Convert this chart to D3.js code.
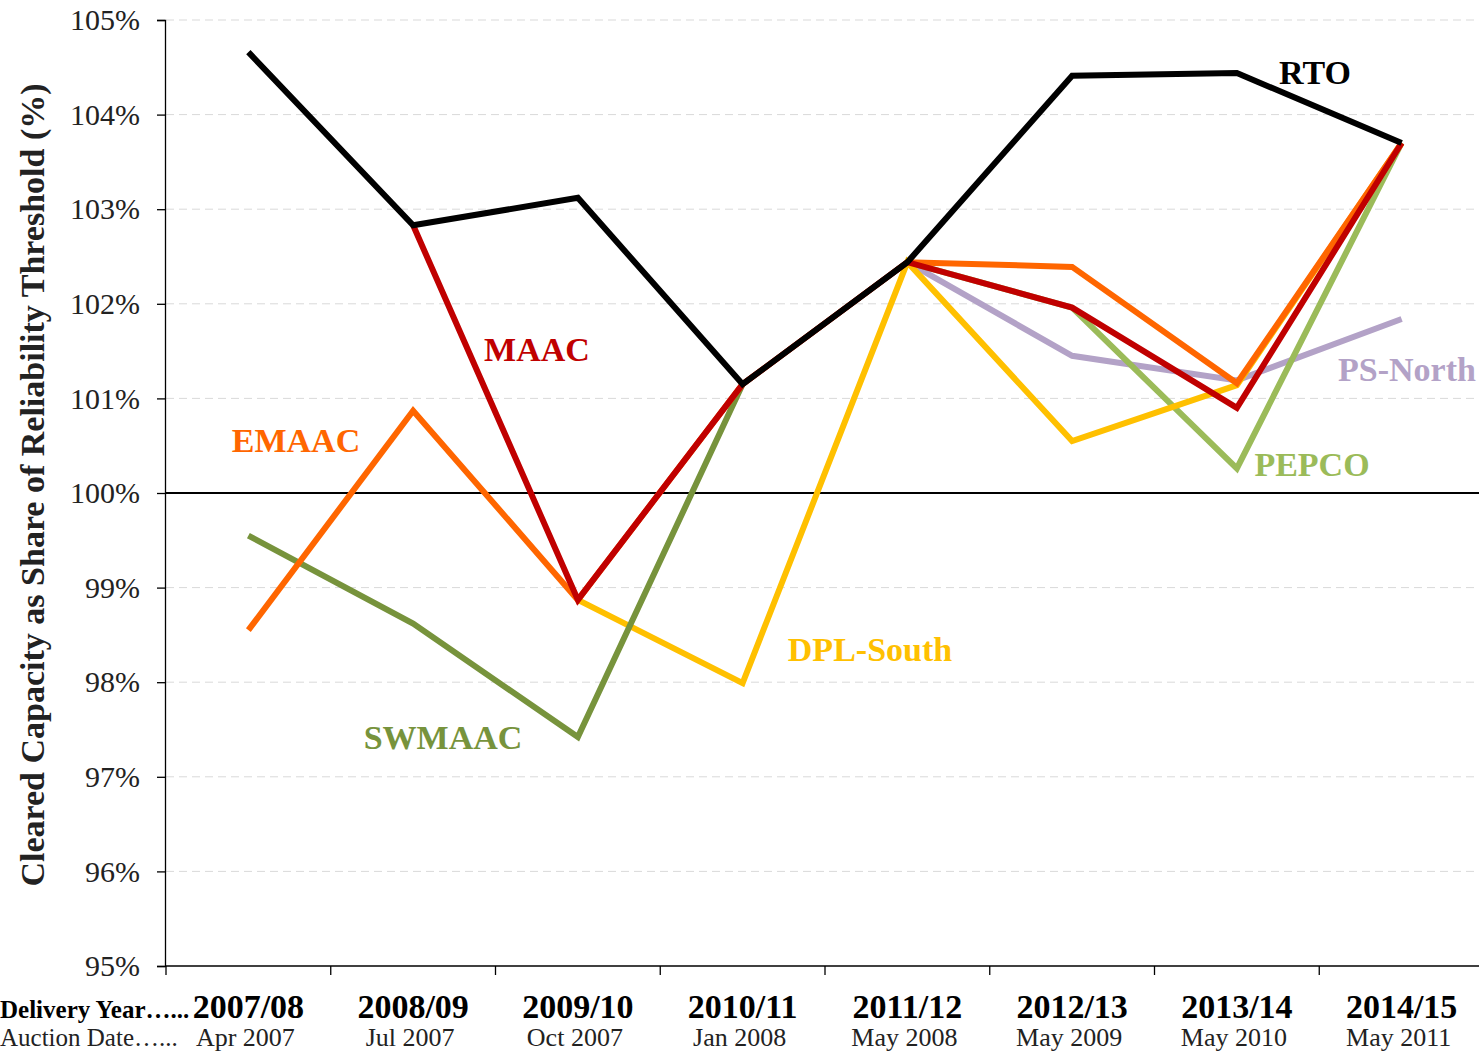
<!DOCTYPE html>
<html>
<head>
<meta charset="utf-8">
<script src="https://cdn.jsdelivr.net/npm/d3@7"></script>
<style>
  body { margin: 0; background: #fff; }
  svg { font-family: "Liberation Serif", "Times New Roman", serif; }
  .grid line { stroke: #d9d9d9; stroke-dasharray: 8,5; }
  .series { fill: none; stroke-width: 6; stroke-linejoin: miter; }
</style>
</head>
<body>
<svg width="1479" height="1051"></svg>
<script>
var years = ["2007/08", "2008/09", "2009/10", "2010/11", "2011/12", "2012/13", "2013/14", "2014/15"];
var auctions = ["Apr 2007", "Jul 2007", "Oct 2007", "Jan 2008", "May 2008", "May 2009", "May 2010", "May 2011"];
var yTicks = [95, 96, 97, 98, 99, 100, 101, 102, 103, 104, 105];

var psNorth = [null, null, null, null, 102.44, 101.45, 101.19, 101.84];
var pepco   = [null, null, null, null, 102.44, 101.96, 100.26, 103.70];
var dplSouth = [null, null, 98.87, 97.99, 102.44, 100.55, 101.14, 103.70];
var swmaac  = [99.55, 98.62, 97.42, 101.15, null, null, null, null];
var emaac   = [98.55, 100.87, 98.87, 101.15, 102.44, 102.39, 101.16, 103.70];
var maac    = [null, 102.83, 98.87, 101.15, 102.44, 101.96, 100.90, 103.70];
var rto     = [104.66, 102.83, 103.12, 101.15, 102.44, 104.41, 104.44, 103.70];

// drawing order bottom -> top
var series = [
  {name: "PS-North", values: psNorth, color: "#b3a2c7", lx: 1407, ly: 369},
  {name: "PEPCO", values: pepco, color: "#9bbb59", lx: 1312, ly: 464},
  {name: "DPL-South", values: dplSouth, color: "#ffc000", lx: 870, ly: 649},
  {name: "SWMAAC", values: swmaac, color: "#77933c", lx: 443, ly: 737},
  {name: "EMAAC", values: emaac, color: "#ff6600", lx: 296, ly: 440},
  {name: "MAAC", values: maac, color: "#c00000", lx: 537, ly: 349},
  {name: "RTO", values: rto, color: "#000000", lx: 1315, ly: 72}
];

var svg = d3.select("svg");

var x = d3.scaleBand()
    .domain(years)
    .range([166, 1484])
    .padding(0);

var y = d3.scaleLinear()
    .domain([95, 105])
    .range([966, 20]);

// gridlines
svg.append("g")
    .attr("class", "grid")
  .selectAll("line")
  .data(yTicks.filter(function(d) { return d !== 95 && d !== 100; }))
  .enter().append("line")
    .attr("x1", 166)
    .attr("x2", 1479)
    .attr("y1", function(d) { return y(d); })
    .attr("y2", function(d) { return y(d); });

// y axis
var yAxis = svg.append("g")
    .attr("transform", "translate(165,0)")
    .call(d3.axisLeft(y)
      .tickValues(yTicks)
      .tickSize(8)
      .tickPadding(17)
      .tickFormat(function(d) { return d + "%"; }));
yAxis.select(".domain").attr("stroke", "#000").attr("stroke-width", 1.3);
yAxis.selectAll(".tick line").attr("stroke", "#000").attr("stroke-width", 1.3);
yAxis.selectAll(".tick text")
    .attr("font-family", "Liberation Serif")
    .attr("font-size", 30)
    .attr("fill", "#222");

// x axis line with ticks at band boundaries
var xAxis = svg.append("g")
    .attr("transform", "translate(0,966)");
xAxis.append("line")
    .attr("x1", 165).attr("x2", 1479)
    .attr("y1", 0).attr("y2", 0)
    .attr("stroke", "#000").attr("stroke-width", 1.3);
xAxis.selectAll(".xtick")
  .data(years)
  .enter().append("line")
    .attr("class", "xtick")
    .attr("x1", function(d) { return x(d); })
    .attr("x2", function(d) { return x(d); })
    .attr("y1", 0).attr("y2", 9)
    .attr("stroke", "#000").attr("stroke-width", 1.3);

xAxis.selectAll(".year")
  .data(years)
  .enter().append("text")
    .attr("class", "year")
    .attr("x", function(d) { return x(d) + x.bandwidth() / 2; })
    .attr("y", 52)
    .attr("text-anchor", "middle")
    .attr("font-size", 34)
    .attr("font-weight", "bold")
    .text(function(d) { return d; });

xAxis.selectAll(".auction")
  .data(auctions)
  .enter().append("text")
    .attr("class", "auction")
    .attr("x", function(d, i) { return x(years[i]) + x.bandwidth() / 2 - 3; })
    .attr("y", 80)
    .attr("text-anchor", "middle")
    .attr("font-size", 26)
    .attr("fill", "#222")
    .text(function(d) { return d; });

svg.append("text")
    .attr("x", 0).attr("y", 1018)
    .attr("font-size", 25)
    .attr("font-weight", "bold")
    .text("Delivery Year…...");
svg.append("text")
    .attr("x", 0).attr("y", 1046)
    .attr("font-size", 25)
    .attr("fill", "#222")
    .text("Auction Date…...");

// 100% reference line
svg.append("line")
    .attr("x1", 166).attr("x2", 1479)
    .attr("y1", y(100)).attr("y2", y(100))
    .attr("stroke", "#000").attr("stroke-width", 2);

// y axis title
svg.append("text")
    .attr("transform", "translate(44,485) rotate(-90)")
    .attr("text-anchor", "middle")
    .attr("font-size", 34)
    .attr("font-weight", "bold")
    .attr("fill", "#222")
    .text("Cleared Capacity as Share of Reliability Threshold (%)");

var line = d3.line()
    .defined(function(d) { return d != null; })
    .x(function(d, i) { return x(years[i]) + x.bandwidth() / 2; })
    .y(function(d) { return y(d); });

svg.selectAll(".series")
  .data(series)
  .enter().append("path")
    .attr("class", "series")
    .attr("stroke", function(d) { return d.color; })
    .attr("stroke-width", function(d) { return d.name === "PS-North" ? 7 : 6; })
    .attr("d", function(d) { return line(d.values); });

svg.selectAll(".label")
  .data(series)
  .enter().append("text")
    .attr("class", "label")
    .attr("x", function(d) { return d.lx; })
    .attr("y", function(d) { return d.ly; })
    .attr("dy", "0.35em")
    .attr("text-anchor", "middle")
    .attr("font-size", 34)
    .attr("font-weight", "bold")
    .attr("fill", function(d) { return d.color; })
    .text(function(d) { return d.name; });
</script>
</body>
</html>
